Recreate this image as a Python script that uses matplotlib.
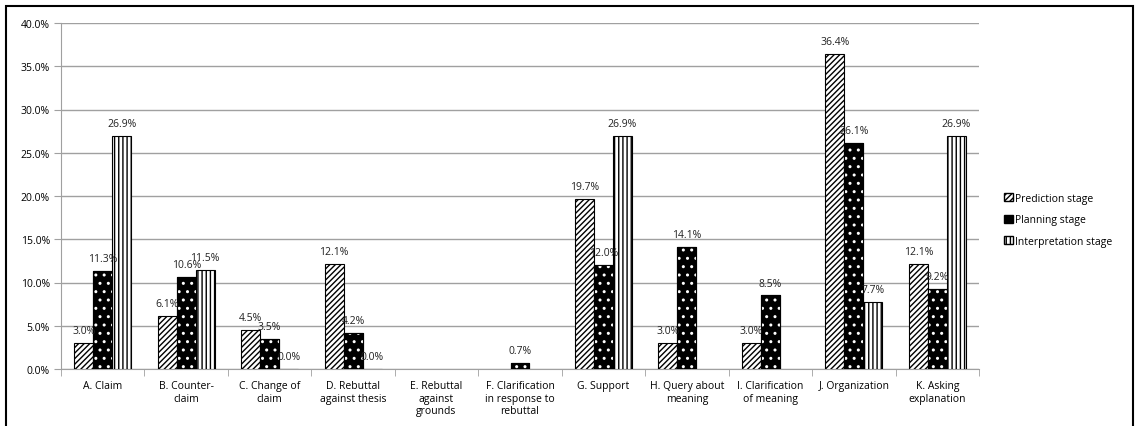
import numpy as np
import matplotlib.pyplot as plt
from matplotlib.patches import Rectangle, Patch
from matplotlib.ticker import FuncFormatter

plt.rcParams['font.family'] = ['Open Sans', 'DejaVu Sans']

# data (percent)
categories = ['A. Claim', 'B. Counter-\nclaim', 'C. Change of\nclaim', 'D. Rebuttal\nagainst thesis',
              'E. Rebuttal\nagainst\ngrounds', 'F. Clarification\nin response to\nrebuttal', 'G. Support',
              'H. Query about\nmeaning', 'I. Clarification\nof meaning', 'J. Organization',
              'K. Asking\nexplanation']
prediction = [3.0, 6.1, 4.5, 12.1, np.nan, np.nan, 19.7, 3.0, 3.0, 36.4, 12.1]
planning = [11.3, 10.6, 3.5, 4.2, np.nan, 0.7, 12.0, 14.1, 8.5, 26.1, 9.2]
interpretation = [26.9, 11.5, 0.0, 0.0, np.nan, np.nan, 26.9, np.nan, np.nan, 7.7, 26.9]
series_names = ['Prediction stage', 'Planning stage', 'Interpretation stage']

fig = plt.figure(figsize=(11.39, 4.27), dpi=100)
ax = fig.add_axes([61 / 1139, 1 - 370 / 427, (979 - 61) / 1139, (370 - 24) / 427])

x = np.arange(len(categories))
w = 0.227
fs = 7.5

# prediction: diagonal hatch
ax.bar(x - w, prediction, w, color='white', edgecolor='black', hatch='//////', linewidth=0.8, zorder=3)
# planning: black with white dots
ax.bar(x, planning, w, color='black', edgecolor='black', linewidth=0.8, zorder=3)
ax.bar(x, planning, w, color='none', edgecolor='white', hatch='..', linewidth=0, zorder=4)
ax.bar(x, planning, w, color='none', edgecolor='black', linewidth=0.8, zorder=5)
# interpretation: vertical lines
ax.bar(x + w, interpretation, w, color='white', edgecolor='black', hatch='||||', linewidth=0.8, zorder=3)

for off, vals in zip([-w, 0, w], [prediction, planning, interpretation]):
    for xi, v in zip(x, vals):
        if np.isnan(v):
            continue
        ax.annotate(f'{v:.1f}%', (xi + off, v), xytext=(0, 5), textcoords='offset points',
                    ha='center', va='bottom', fontsize=fs, color='#222222', zorder=6)

ax.set_xlim(-0.5, len(categories) - 0.5)
ax.set_ylim(0, 40)
ax.set_yticks(np.arange(0, 41, 5))
ax.yaxis.set_major_formatter(FuncFormatter(lambda v, p: f'{v:.1f}%'))
ax.yaxis.grid(True, color='#a0a0a0', linewidth=1)
ax.set_axisbelow(True)

ax.set_xticks(x)
ax.set_xticklabels(categories, fontsize=fs)
ax.set_xticks(np.arange(-0.5, len(categories)), minor=True)
ax.tick_params(axis='x', which='major', length=0, pad=8)
ax.tick_params(axis='x', which='minor', length=5, color='#a0a0a0', direction='out')
ax.tick_params(axis='y', labelsize=fs, length=5, color='#a0a0a0', pad=3)

for s in ['top', 'right']:
    ax.spines[s].set_visible(False)
ax.spines['left'].set_color('#a0a0a0')
ax.spines['bottom'].set_color('#a0a0a0')

handles = [Patch(facecolor='white', edgecolor='black', hatch='//////'),
           Patch(facecolor='black', edgecolor='black'),
           Patch(facecolor='white', edgecolor='black', hatch='||||')]
fig.legend(handles, series_names, loc='center left', bbox_to_anchor=(995 / 1139, 1 - 221 / 427),
           frameon=False, fontsize=fs, handlelength=0.8, handleheight=0.8, handletextpad=0.2,
           labelspacing=1.0)

# outer border
fig.patches.append(Rectangle((6 / 1139, -0.05), (1133 - 6) / 1139, 1.05 - 7 / 427,
                             transform=fig.transFigure, fill=False, edgecolor='black', linewidth=1.5))

fig.savefig('out.png', dpi=100)
